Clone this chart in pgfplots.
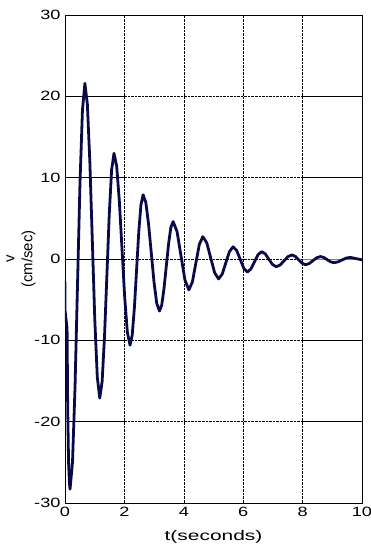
\documentclass[border=0pt]{standalone}
\usepackage{pgfplots}
\pgfplotsset{compat=1.18}
\usepackage{fontspec}
\setmainfont{Liberation Sans}
\newfontfamily\stretchfont[FakeStretch=1.35]{Liberation Sans}
\newfontfamily\xlabfont[FakeStretch=1.5]{Liberation Sans}
\definecolor{curve}{HTML}{0A0A48}
\begin{document}
\begin{tikzpicture}
\path[use as bounding box] (-65bp,-47bp) rectangle (306bp,503bp);
\begin{axis}[
  scale only axis, width=297bp, height=488bp,
  xmin=0, xmax=10, ymin=-30, ymax=30,
  xtick={0,2,...,10}, ytick={-30,-20,...,30},
  grid=major,
  major grid style={densely dotted, black, line width=0.5pt},
  axis line style={black, line width=0.6pt},
  tick style={black, line width=0.5pt},
  major tick length=3bp,
  /pgf/number format/assume math mode=true,
  tick label style={font=\stretchfont\fontsize{13.5}{15}\selectfont},
  yticklabel style={xshift=-1bp},
  xticklabel style={yshift=-1bp},
  xlabel={t(seconds)},
  xlabel style={font=\xlabfont\fontsize{14}{16}\selectfont, at={(axis description cs:0.5,-0.0697)}, anchor=center},
  ylabel={v\\(cm/sec)},
  ylabel style={font=\fontsize{15}{18}\selectfont, align=center, at={(axis description cs:-0.148,0.5)}, anchor=center},
]
% solid grid segments as in the reference
\addplot[black, line width=0.6pt, forget plot] coordinates {(0,20) (2,20)};
\addplot[black, line width=0.6pt, forget plot] coordinates {(0,10) (2,10)};
\addplot[black, line width=0.6pt, forget plot] coordinates {(0,0) (2,0)};
\addplot[black, line width=0.6pt, forget plot] coordinates {(0,-10) (2,-10)};
\addplot[black, line width=0.6pt, forget plot] coordinates {(0,-20) (2,-20)};
\addplot[black, line width=0.6pt, forget plot] coordinates {(8,20) (10,20)};
\addplot[black, line width=0.6pt, forget plot] coordinates {(8,10) (10,10)};
\addplot[gray, line width=0.6pt, forget plot] coordinates {(8,0) (10,0)};
\addplot[black, line width=0.6pt, forget plot] coordinates {(8,-10) (10,-10)};
\addplot[black, line width=0.6pt, forget plot] coordinates {(8,-20) (10,-20)};
% response curve
\addplot[curve, line width=2.8pt, line join=round, line cap=round] coordinates {
(0,-2.8) (0.0,-6.3) (0.07,-8.5) (0.09,-18) (0.12,-25) (0.15,-27.6) (0.17,-28.3)
(0.253,-24.96) (0.337,-15.82) (0.42,-3.35) (0.503,9.13) (0.587,18.26) (0.67,21.6)
(0.753,19.01) (0.837,11.93) (0.92,2.25) (1.003,-7.43) (1.087,-14.51) (1.17,-17.1)
(1.25,-15.08) (1.33,-9.57) (1.41,-2.05) (1.49,5.48) (1.57,10.98) (1.65,13.0)
(1.74,11.42) (1.83,7.1) (1.92,1.2) (2.01,-4.7) (2.10,-9.02) (2.19,-10.6)
(2.263,-9.36) (2.337,-5.97) (2.41,-1.35) (2.483,3.28) (2.557,6.66) (2.63,7.9)
(2.722,6.94) (2.813,4.32) (2.905,0.75) (2.997,-2.83) (3.088,-5.44) (3.18,-6.4)
(3.257,-5.66) (3.333,-3.65) (3.41,-0.9) (3.487,1.85) (3.563,3.86) (3.64,4.6)
(3.773,3.37) (3.905,0.4) (4.038,-2.57) (4.17,-3.8)
(4.288,-2.84) (4.405,-0.52) (4.523,1.79) (4.64,2.75)
(4.773,1.99) (4.905,0.15) (5.038,-1.69) (5.17,-2.45)
(5.293,-1.87) (5.415,-0.47) (5.538,0.92) (5.66,1.5)
(5.78,1.05) (5.90,-0.05) (6.02,-1.15) (6.14,-1.6)
(6.26,-1.23) (6.38,-0.35) (6.50,0.54) (6.62,0.9)
(6.743,0.63) (6.865,-0.03) (6.988,-0.68) (7.11,-0.95)
(7.243,-0.74) (7.375,-0.22) (7.508,0.29) (7.64,0.5)
(7.755,0.32) (7.87,-0.1) (7.985,-0.52) (8.1,-0.7)
(8.225,-0.55) (8.35,-0.2) (8.475,0.15) (8.6,0.3)
(8.713,0.19) (8.825,-0.075) (8.938,-0.34) (9.05,-0.45)
(9.188,-0.355) (9.325,-0.125) (9.463,0.105) (9.6,0.2)
(9.8,0.05) (10,-0.1)
};
\end{axis}
\end{tikzpicture}
\end{document}
